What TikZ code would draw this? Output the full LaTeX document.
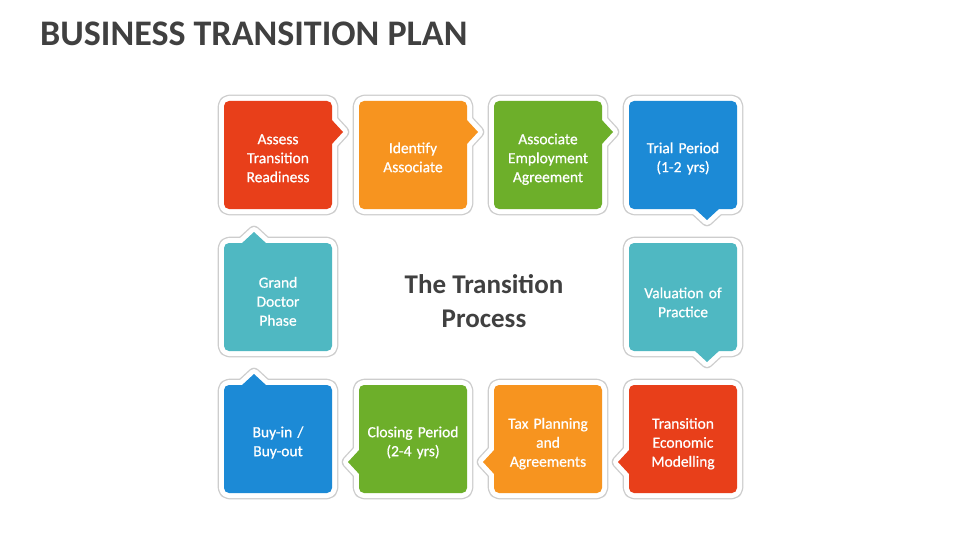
\documentclass[tikz,border=0pt]{standalone}
\usepackage{fontspec}
\setmainfont{Carlito}
\newfontfamily\boxfont{Carlito}[FakeBold=0.6]
\definecolor{cred}{HTML}{E83F1A}
\definecolor{corange}{HTML}{F7941F}
\definecolor{cgreen}{HTML}{6DAF2A}
\definecolor{cblue}{HTML}{1C8AD6}
\definecolor{cteal}{HTML}{4FB8C2}
\definecolor{titlec}{HTML}{404040}
\definecolor{shadowc}{HTML}{CDCDCD}
\newcommand\mystrut{\rule[-1.5pt]{0pt}{17.5pt}}
\newcommand\callbox[8]{%
  % #1 name, #2 cx, #3 cy, #4 colour, #5 pointer path, #6 lines, #7 text shift, #8 text
  \path[draw=shadowc, line width=12.6pt, line join=round, rounded corners=5pt] (#2-54,#3-54) rectangle (#2+54,#3+54);
  \path[draw=shadowc, line width=12.6pt, line join=round] #5 -- cycle;
  \path[fill=white, draw=white, line width=10pt, line join=round, rounded corners=5pt] (#2-54,#3-54) rectangle (#2+54,#3+54);
  \path[fill=white, draw=white, line width=10pt, line join=round] #5 -- cycle;
  \path[fill=#4, rounded corners=5pt] (#2-54,#3-54) rectangle (#2+54,#3+54);
  \path[fill=#4] #5 -- cycle;
  \node[boxtext, anchor=north] (#1) at (#2,#3-9.5*#6+#7) {\mystrut#8};
}
\begin{document}
\begin{tikzpicture}[x=1pt,y=-1pt,
  boxtext/.style={text=white, align=center, inner sep=0pt, text width=104pt,
    font=\boxfont\fontsize{15.5}{19}\selectfont},
  bigtext/.style={text=titlec, align=center, inner sep=0pt,
    font=\fontsize{27}{34}\selectfont\bfseries}]
\useasboundingbox (0,0) rectangle (960,540);
\fill[white] (0,0) rectangle (960,540);

\node[anchor=base west, inner sep=0pt, text=titlec, font=\fontsize{36}{40}\selectfont\bfseries] (title) at (40,46) {BUSINESS TRANSITION PLAN};

% row 1
\callbox{assess}{278}{155}{cred}{(331,119) -- (343,132) -- (331,145)}{3}{1.5}{Assess\\Transition\\Readiness}
\callbox{identify}{413}{155}{corange}{(466,119) -- (478,132) -- (466,145)}{2}{1}{Identify\\Associate}
\callbox{employ}{548}{155}{cgreen}{(601,119) -- (613,132) -- (601,145)}{3}{1.5}{Associate\\Employment\\Agreement}
\callbox{trial}{683}{155}{cblue}{(694,208) -- (707,220) -- (720,208)}{2}{1}{Trial Period\\(1-2 yrs)}
% row 2
\callbox{valuation}{683}{297}{cteal}{(694,350) -- (707,362) -- (720,350)}{2}{4}{Valuation of\\Practice}
\callbox{grand}{278}{297}{cteal}{(241,244) -- (254,232) -- (267,244)}{3}{3}{Grand\\Doctor\\Phase}
% row 3
\callbox{econ}{683}{439}{cred}{(630,449) -- (618,462) -- (630,475)}{3}{2}{Transition\\Economic\\Modelling}
\callbox{tax}{548}{439}{corange}{(495,449) -- (483,462) -- (495,475)}{3}{2}{Tax Planning\\and\\Agreements}
\callbox{closing}{413}{439}{cgreen}{(360,449) -- (348,462) -- (360,475)}{2}{1}{Closing Period\\(2-4 yrs)}
\callbox{buyin}{278}{439}{cblue}{(241,386) -- (254,374) -- (267,386)}{2}{1}{Buy-in /\\Buy-out}

\node[bigtext, anchor=north] (center) at (484,268) {\rule{0pt}{25pt}The Transition\\Process};
\end{tikzpicture}
\end{document}
